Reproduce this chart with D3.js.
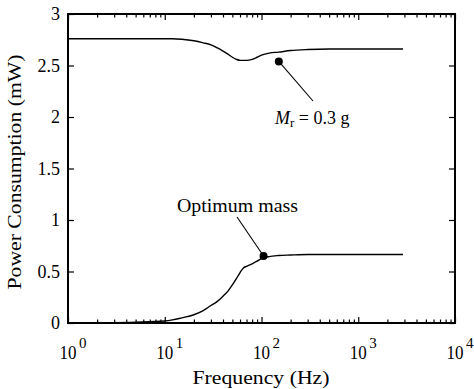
<!DOCTYPE html>
<html><head><meta charset="utf-8">
<script src="https://cdn.jsdelivr.net/npm/d3@7"></script>
<style>body{margin:0;background:#fff}svg{display:block}</style>
</head><body>
<script>
const freq  = [1, 2, 5, 10, 12, 15, 20, 25, 30, 35, 40, 45, 50, 55, 60, 65, 70, 80, 90, 100, 120, 150, 200, 300, 500, 1000, 2000, 2900];
const upper = [2.76, 2.76, 2.76, 2.76, 2.76, 2.755, 2.74, 2.72, 2.70, 2.67, 2.64, 2.61, 2.58, 2.56, 2.55, 2.55, 2.55, 2.56, 2.58, 2.60, 2.62, 2.63, 2.645, 2.655, 2.66, 2.66, 2.66, 2.66];
const lower = [0.0, 0.002, 0.008, 0.02, 0.03, 0.05, 0.08, 0.12, 0.17, 0.21, 0.26, 0.31, 0.37, 0.43, 0.49, 0.535, 0.55, 0.575, 0.60, 0.625, 0.645, 0.655, 0.66, 0.665, 0.665, 0.665, 0.665, 0.665];
const markers = [{f: 151, v: 2.54}, {f: 105, v: 0.65}];
const xMajor = [1, 10, 100, 1000, 10000];
const xExp = ["0", "1", "2", "3", "4"];
const yTicks = [0, 0.5, 1, 1.5, 2, 2.5, 3];
const yLabels = ["0", "0.5", "1", "1.5", "2", "2.5", "3"];

const W = 474, H = 389;
const L = 68, R = 455, T = 14, B = 323;
const svg = d3.select("body").append("svg").attr("width", W).attr("height", H);
const x = d3.scaleLog().domain([1, 10000]).range([L, R]);
const y = d3.scaleLinear().domain([0, 3]).range([B, T]);
const font = "'Liberation Serif', serif";

const minors = [];
for (let d = 1; d < 10000; d *= 10) for (let k = 2; k <= 9; k++) minors.push(d * k);

function tickAxes(g, axis) { g.call(axis); g.select(".domain").remove(); g.selectAll("line").attr("stroke", "#000").attr("stroke-width", 1.2); g.selectAll("text").remove(); }

svg.append("g").attr("transform", `translate(0,${B})`).call(g => tickAxes(g, d3.axisBottom(x).tickValues(xMajor).tickSize(-6)));
svg.append("g").attr("transform", `translate(0,${B})`).call(g => tickAxes(g, d3.axisBottom(x).tickValues(minors).tickSize(-3.5)));
svg.append("g").attr("transform", `translate(0,${T})`).call(g => tickAxes(g, d3.axisTop(x).tickValues(xMajor).tickSize(-6)));
svg.append("g").attr("transform", `translate(0,${T})`).call(g => tickAxes(g, d3.axisTop(x).tickValues(minors).tickSize(-3.5)));
svg.append("g").attr("transform", `translate(${L},0)`).call(g => tickAxes(g, d3.axisLeft(y).tickValues(yTicks).tickSize(-6)));
svg.append("g").attr("transform", `translate(${R},0)`).call(g => tickAxes(g, d3.axisRight(y).tickValues(yTicks).tickSize(-6)));

svg.append("rect").attr("x", L).attr("y", T).attr("width", R - L).attr("height", B - T)
  .attr("fill", "none").attr("stroke", "#000").attr("stroke-width", 2);

svg.append("g").selectAll("text").data(yTicks).join("text")
  .attr("x", L - 8).attr("y", d => y(d) + 6).attr("text-anchor", "end")
  .style("font-family", font).attr("font-size", 18).text((d, i) => yLabels[i]);

const xl = svg.append("g").selectAll("g").data(xMajor).join("g");
xl.append("text").attr("x", d => x(d)).attr("y", 359).attr("text-anchor", "middle")
  .style("font-family", font).attr("font-size", 19).attr("textLength", 17).attr("lengthAdjust", "spacingAndGlyphs").text("10");
xl.append("text").attr("x", d => x(d) + 11).attr("y", 348)
  .style("font-family", font).attr("font-size", 15).text((d, i) => xExp[i]);

svg.append("text").attr("x", 261).attr("y", 384).attr("text-anchor", "middle")
  .style("font-family", font).attr("font-size", 19).attr("textLength", 137).attr("lengthAdjust", "spacingAndGlyphs")
  .text("Frequency (Hz)");
svg.append("text").attr("transform", "translate(21,172) rotate(-90)").attr("text-anchor", "middle")
  .style("font-family", font).attr("font-size", 19).attr("textLength", 235).attr("lengthAdjust", "spacingAndGlyphs")
  .text("Power Consumption (mW)");

const line = d3.line().x(d => x(d[0])).y(d => y(d[1])).curve(d3.curveMonotoneX);
[upper, lower].forEach(s => {
  svg.append("path").datum(freq.map((f, i) => [f, s[i]]))
    .attr("d", line).attr("fill", "none").attr("stroke", "#000").attr("stroke-width", 1.4);
});

svg.append("g").selectAll("circle").data(markers).join("circle")
  .attr("cx", d => x(d.f)).attr("cy", d => y(d.v)).attr("r", 4).attr("fill", "#000");

svg.append("line").attr("x1", x(markers[0].f)).attr("y1", y(markers[0].v))
  .attr("x2", 313).attr("y2", 101).attr("stroke", "#000").attr("stroke-width", 1.1);
svg.append("line").attr("x1", x(markers[1].f)).attr("y1", y(markers[1].v))
  .attr("x2", 237).attr("y2", 217).attr("stroke", "#000").attr("stroke-width", 1.1);

const t1 = svg.append("text").attr("x", 275).attr("y", 124).style("font-family", font).attr("font-size", 18);
t1.append("tspan").attr("font-style", "italic").text("M");
t1.append("tspan").attr("font-size", 13).attr("dy", 3).text("r");
t1.append("tspan").attr("dy", -3).text(" = 0.3 g");
svg.append("text").attr("x", 177).attr("y", 212).style("font-family", font).attr("font-size", 18)
  .attr("textLength", 121).attr("lengthAdjust", "spacingAndGlyphs").text("Optimum mass");
</script>
</body></html>
